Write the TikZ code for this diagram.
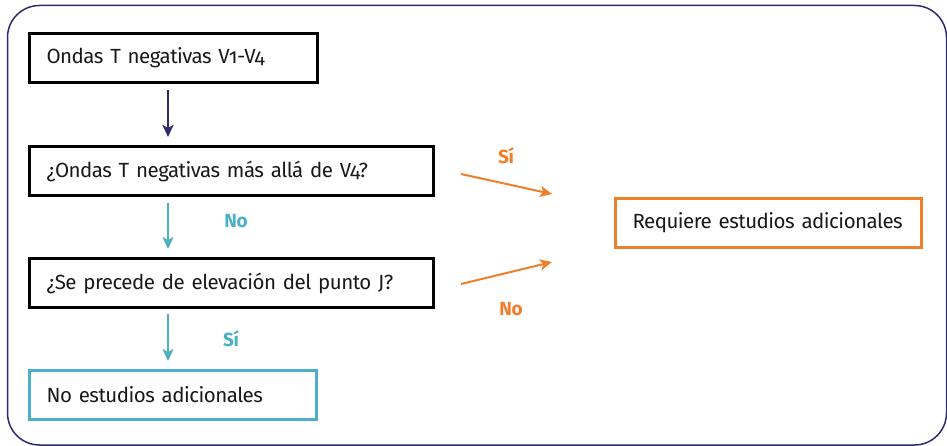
\documentclass[tikz,border=0pt]{standalone}
\usepackage{fontspec}
\setmainfont[Numbers=OldStyle,LetterSpace=-2.5]{Fira Sans}
\usetikzlibrary{arrows.meta}
\definecolor{navy}{HTML}{2E2A6E}
\definecolor{teal}{HTML}{4BAFC6}
\definecolor{orng}{HTML}{F07F2A}
\tikzset{
  box/.style={draw=black, line width=3pt, rectangle, inner xsep=17pt, inner ysep=0pt,
    minimum height=49pt, align=left, anchor=north west, font=\fontsize{20.5}{22}\selectfont, text=black!90},
  lbl/.style={font=\bfseries\fontsize{19}{22}\selectfont},
  arr/.style={line width=2pt, -{Stealth[length=12pt,width=11pt,inset=3pt]}},
}
\begin{document}
\begin{tikzpicture}[x=1pt,y=-1pt]
\useasboundingbox (0,0) rectangle (947,446);
\draw[navy, line width=1.5pt, rounded corners=32pt] (7.5,5.5) rectangle (946.5,445);
\node[box, text width=254pt] (b1) at (28,32) {\mbox{Ondas T negativas V1-V4}};
\node[box, text width=370pt] (b2) at (28,145) {\mbox{¿Ondas T negativas más allá de V4?}};
\node[box, text width=370pt] (b3) at (28,257) {\mbox{¿Se precede de elevación del punto J?}};
\node[box, draw=teal, text width=253pt] (b4) at (28,369) {\mbox{No estudios adicionales}};
\node[box, draw=orng, text width=272pt] (b5) at (614,197) {\mbox{Requiere estudios adicionales}};
\draw[arr, navy] (168,90) -- (168,137);
\draw[arr, teal] (168,203) -- (168,249);
\draw[arr, teal] (168,314) -- (168,361);
\node[lbl, text=teal] (n1) at (236,221) {No};
\node[lbl, text=teal] (s1) at (231,339) {Sí};
\coordinate (o1a) at (461,174); \coordinate (o1b) at (552,194);
\coordinate (o2a) at (461,284); \coordinate (o2b) at (552,262);
\draw[arr, orng] (o1a) -- (o1b);
\draw[arr, orng] (o2a) -- (o2b);
\node[lbl, text=orng] (s2) at (506,156) {Sí};
\node[lbl, text=orng] (n2) at (511,309) {No};
\end{tikzpicture}
\end{document}
